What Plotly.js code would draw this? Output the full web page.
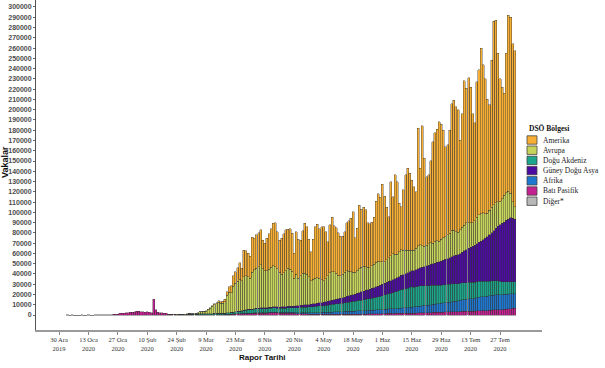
<!DOCTYPE html>
<html><head><meta charset="utf-8">
<script src="https://cdn.plot.ly/plotly-3.0.1.min.js"></script>
<style>html,body{margin:0;padding:0;background:#fff}#chart{width:605px;height:368px}</style>
</head><body><div id="chart"></div>
<script>
// ---- DATA (daily reported cases by WHO region) ----
const digerStart = '2020-01-03';
const diger = [200,0,200,0,0,0,0,200,0,0,200,0,0,150,150,150,150];

const batiPasifikStart = '2020-01-20';
const batiPasifik = [
 280,300,260,270,280,700,760,850,1480,1750,1760,2000,
 2130,2620,2850,3250,3900,3720,3200,3420,2680,3080,2520,2040,15160,5100,2660,2030,2060,1900,1760,830,900,840,660,420,520,470,450,340,440,
 590,220,250,280,320,250,300,250,200,180,250,230,270,300,350,300,400,450,500,600,750,800,900,1000,1100,1200,1300,1400,1500,1400,1500,
 1600,1700,1800,1900,1900,1800,1800,2000,2100,2200,2100,2000,1900,1800,1900,1800,1900,1800,1600,1500,1300,1300,1200,1200,1100,1000,900,900,850,800,
 800,750,700,650,700,750,800,700,750,800,750,700,800,850,900,850,800,850,900,950,900,850,900,950,1000,1050,1000,1100,1200,1300,1200,
 1300,1400,1500,1600,1500,1400,1500,1600,1700,1800,1700,1600,1700,1800,1900,1800,1900,2000,2100,2200,2300,2200,2300,2400,2500,2600,2700,2600,2800,2900,
 3000,3100,3000,3200,3300,3100,3200,3400,3500,3600,3500,3700,3800,3600,3800,4000,4200,4300,4400,4200,4300,4500,4700,4900,5000,5100,4900,5200,5500,5800,6000,
 6300,6500,6700];

const afrikaStart = '2020-03-01';
const afrika = [
 0,0,1,2,3,3,5,5,8,10,20,30,40,50,60,80,90,100,120,150,180,200,250,280,300,350,400,380,400,420,450,
 480,510,530,540,590,610,630,660,690,730,760,770,810,830,840,890,910,940,1010,1040,1110,1140,1190,1260,1290,1340,1420,1440,1490,1570,
 1620,1690,1810,1840,1930,1980,2120,2180,2310,2380,2290,2420,2480,2630,2690,2820,2870,3010,2880,3030,3090,3220,3280,3420,3480,3390,3530,3580,3720,3790,3920,
 4020,4130,4170,4320,4380,4530,4570,4720,4790,5030,5180,5420,5570,5830,5880,6040,6170,6430,6580,6820,6970,7230,7380,7620,7780,8030,8180,8420,8580,8830,
 9040,9280,9630,9870,10230,10380,10640,10870,11230,11480,11830,11970,12240,12380,12630,12780,13040,13270,13630,13780,14030,14180,14430,14580,14830,14970,14780,14630,14480,14420,14280,
 14230,14080,14020];

const doguAkdenizStart = '2020-02-20';
const doguAkdeniz = [
 5,10,20,40,60,80,100,120,150,200,
 400,500,600,700,600,1200,1100,1000,800,900,1000,1100,1200,1400,1400,1300,1200,1300,1500,1600,1700,1800,1900,2000,2100,2300,2500,3000,3200,3400,3500,
 3600,3700,3800,3900,3800,3700,3600,3800,3900,4000,4100,4000,3800,3900,4000,4100,4200,4400,4500,4600,4700,4800,5000,5200,5300,5400,5500,5700,5900,6000,
 6180,6420,6510,6690,6930,6980,7230,7380,7620,7790,8030,8180,8420,8590,8830,8980,9230,9380,9620,9880,10230,10480,10830,10980,11320,11580,11930,12180,12530,12780,13130,
 13520,13980,14530,14970,15520,15980,16530,16970,17520,17980,18330,18570,18930,19170,19530,19180,19520,19780,20030,19480,19030,19180,19020,18780,18630,18380,18220,17980,17820,17580,
 17530,17380,17320,17180,17130,16970,16830,16580,16530,16380,16330,16180,16030,15780,15630,15480,15430,15180,15030,14780,14530,14280,14030,13780,13530,13280,13030,12780,12630,12380,12230,
 11980,11830,11580];

const guneyDoguAsyaStart = '2020-03-01';
const guneyDoguAsya = [
 0,0,0,2,3,3,4,5,5,5,10,15,20,30,30,40,40,50,60,80,100,120,150,180,200,250,280,300,320,350,400,
 460,540,660,690,760,790,910,940,1010,1040,1110,1140,1210,1290,1360,1390,1460,1490,1560,1590,1710,1790,1910,1990,2110,2190,2310,2390,2510,2590,
 2710,2890,3120,3280,3520,3680,3920,4080,4320,4480,4720,4880,5120,5380,5720,5980,6320,6580,7020,7280,7620,7980,8320,8580,8920,9180,9520,9780,10120,10380,10720,
 10980,11320,11580,11920,12180,12520,12780,13120,13380,13720,13980,14420,14780,15220,15580,16020,16480,17020,17480,18020,18580,19220,19780,20420,20980,21620,22180,22820,23380,24020,
 24580,25220,25780,26420,26980,27620,28180,29020,29980,31020,31980,33020,33980,35020,35980,37020,37980,39020,40480,42020,43480,45020,46980,49020,50980,53020,54980,56520,57980,59520,60980,
 62020,61980,61020];

const avrupaStart = '2020-02-22';
const avrupa = [
 20,80,70,100,120,200,300,350,
 500,600,550,800,1000,1500,1800,2200,2800,4000,5300,7000,8400,9200,10800,9800,9700,11100,17000,19700,19100,25100,27800,29500,31300,29400,33000,33000,32000,30000,36000,
 38000,39000,40000,42000,38000,36000,36000,37000,39000,40000,39000,37000,34000,32000,33000,35000,37000,36000,34000,27000,31000,27000,29000,31000,31000,30000,27000,23000,24000,25000,
 25000,24000,22000,21000,22000,25000,27000,28000,27000,25000,23000,22000,23000,24000,25000,24000,23000,22000,21000,22000,23000,24000,24000,23000,22000,21000,22000,23000,24000,24000,23000,
 22000,21000,22000,23000,24000,25000,24000,23000,24000,25000,24000,23000,22000,21000,20000,20000,21000,22000,22000,21000,20000,20000,21000,21000,20000,21000,21000,20000,21000,22000,
 22000,23000,24000,26000,25000,23000,22000,23000,24000,25000,26000,25000,24000,23000,24000,26000,27000,27000,26000,24000,23000,24000,25000,25000,25000,24000,23000,24000,26000,27000,27000,
 24000,16000,12000];

const amerikaStart = '2020-03-01';
const amerika = [
 20,30,40,50,60,80,100,150,200,300,420,600,800,1000,1300,1500,1800,2200,3500,5500,6500,10000,11000,13000,16000,12000,25800,24600,22600,21900,33900,
 30600,32500,33200,33800,28000,26900,31800,34600,37300,41300,43000,36100,31300,34900,37900,39800,38000,39400,37000,24300,41200,37700,34700,41400,48500,46000,36600,28300,39000,50000,
 52300,48200,51900,52500,46000,33200,46700,52700,44800,44500,41300,38400,36800,39600,46900,49400,52100,58800,33600,41500,62200,56500,57700,55600,43300,42800,42600,45800,59000,65700,62600,
 75700,63700,51200,39900,72200,55600,77000,70600,47400,42100,58800,73400,79900,75000,68600,62000,54900,114600,74700,116600,85700,67000,66900,79800,98900,106000,108700,116200,112400,104700,
 87900,88000,100300,123300,126400,121900,119200,87100,110800,140500,131400,141100,132000,106200,95000,131700,141400,161200,144000,131200,110700,103000,142900,178700,177700,144600,119300,108900,99400,135900,171500,
 171500,153600,152200];

const regionNames = ['Amerika','Avrupa','Doğu Akdeniz','Güney Doğu Asya','Afrika','Batı Pasifik','Diğer*'];
const regionColors = ['#F6AE35','#C7D45C','#1BA58A','#4B0BA0','#1E78D0','#C3218F','#B8B8B8'];

const xTickVals = ['2019-12-30','2020-01-13','2020-01-27','2020-02-10','2020-02-24','2020-03-09','2020-03-23','2020-04-06','2020-04-20','2020-05-04','2020-05-18','2020-06-01','2020-06-15','2020-06-29','2020-07-13','2020-07-27'];
const xTickText = ['30 Ara<br>2019','13 Oca<br>2020','27 Oca<br>2020','10 Şub<br>2020','24 Şub<br>2020','9 Mar<br>2020','23 Mar<br>2020','6 Nis<br>2020','20 Nis<br>2020','4 May<br>2020','18 May<br>2020','1 Haz<br>2020','15 Haz<br>2020','29 Haz<br>2020','13 Tem<br>2020','27 Tem<br>2020'];
const yTickVals = [0,10000,20000,30000,40000,50000,60000,70000,80000,90000,100000,110000,120000,130000,140000,150000,160000,170000,180000,190000,200000,210000,220000,230000,240000,250000,260000,270000,280000,290000,300000];

// ---- BUILD ----
function dayList(start, n){
  const out=[]; const t0=Date.parse(start+'T00:00:00Z');
  for(let i=0;i<n;i++){ out.push(new Date(t0+i*86400000).toISOString().slice(0,10)); }
  return out;
}
// stacking order, bottom -> top
const stack = [
  {name:'Diğer*', start:digerStart, y:diger},
  {name:'Batı Pasifik', start:batiPasifikStart, y:batiPasifik},
  {name:'Afrika', start:afrikaStart, y:afrika},
  {name:'Doğu Akdeniz', start:doguAkdenizStart, y:doguAkdeniz},
  {name:'Güney Doğu Asya', start:guneyDoguAsyaStart, y:guneyDoguAsya},
  {name:'Avrupa', start:avrupaStart, y:avrupa},
  {name:'Amerika', start:amerikaStart, y:amerika}
];
const traces = stack.map(s => ({
  type:'bar', name:s.name, x:dayList(s.start, s.y.length), y:s.y,
  marker:{color:regionColors[regionNames.indexOf(s.name)], line:{color:'#333333', width:0.4}},
  hoverinfo:'x+y+name'
}));

const PL=36, PR=542, PT=0, PB=330;
const px = v => (v-PL)/(PR-PL);
const py = v => 1-(v-PT)/(PB-PT);

const shapes=[], annotations=[];
annotations.push({xref:'paper',yref:'paper',x:px(527),y:py(128),xanchor:'left',yanchor:'middle',showarrow:false,
  text:'<b>DSÖ Bölgesi</b>',font:{family:'Liberation Serif, serif',size:7.5,color:'#111'}});
regionNames.forEach((n,k)=>{
  const yc = 140 + 10.2*k;
  shapes.push({type:'rect',xref:'paper',yref:'paper',x0:px(527),x1:px(537),y0:py(yc-4.2),y1:py(yc+4.2),
    fillcolor:regionColors[k],line:{color:'#444',width:0.8}});
  annotations.push({xref:'paper',yref:'paper',x:px(541),y:py(yc),xanchor:'left',yanchor:'middle',showarrow:false,
    text:n,font:{family:'Liberation Serif, serif',size:7.5,color:'#222'}});
});
annotations.push({xref:'paper',yref:'paper',x:px(5),y:py(162),textangle:-90,showarrow:false,xanchor:'center',yanchor:'middle',
  text:'<b>Vakalar</b>',font:{family:'Liberation Sans, Arial, sans-serif',size:9,color:'#111'}});
annotations.push({xref:'paper',yref:'paper',x:px(262),y:py(357),showarrow:false,xanchor:'center',yanchor:'middle',
  text:'<b>Rapor Tarihi</b>',font:{family:'Liberation Sans, Arial, sans-serif',size:8,color:'#111'}});

const layout = {
  width:605, height:368,
  margin:{l:PL, r:605-PR, t:PT, b:368-PB, pad:0},
  paper_bgcolor:'#fff', plot_bgcolor:'#fff',
  barmode:'stack', bargap:0.03, showlegend:false,
  xaxis:{type:'date', range:['2019-12-19','2020-08-16'], tickmode:'array', tickvals:xTickVals, ticktext:xTickText,
    ticks:'outside', ticklen:3, tickcolor:'#888', tickwidth:1, showline:true, linecolor:'#9a9a9a', linewidth:1.5,
    showgrid:false, zeroline:false, fixedrange:true,
    tickfont:{family:'Liberation Serif, serif', size:6.5, color:'#333'}},
  yaxis:{range:[-14600,306800], tickmode:'array', tickvals:yTickVals, tickformat:'d',
    ticks:'outside', ticklen:2, tickcolor:'#666', tickwidth:1, showline:true, linecolor:'#555', linewidth:1,
    showgrid:false, zeroline:false, fixedrange:true,
    tickfont:{family:'Liberation Sans, Arial, sans-serif', size:7, color:'#4d4d4d', weight:'bold'}},
  shapes:shapes, annotations:annotations
};
Plotly.newPlot('chart', traces, layout, {displayModeBar:false, staticPlot:true});
</script>
</body></html>
